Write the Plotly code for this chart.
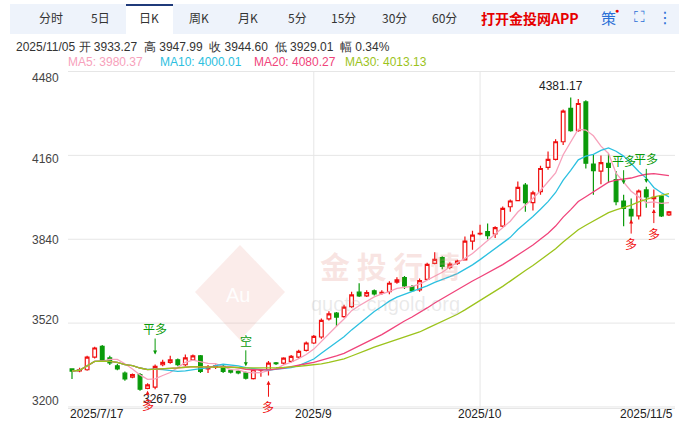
import plotly.graph_objects as go
import pandas as pd

dates = pd.bdate_range("2025-07-17", periods=80).strftime("%Y/%m/%d").tolist()
opens = [3345,3338,3342,3390,3431,3387,3357,3329,3314,3323,3271,3276,3361,3370,3380,3361,3380,3395,3345,3352,
         3355,3340,3336,3330,3308,3340,3342,3368,3367,3374,3390,3416,3444,3467,3536,3558,3545,3583,3638,3624,
         3643,3634,3640,3676,3694,3659,3647,3687,3748,3770,3733,3748,3761,3833,3860,3869,3860,3890,3964,3987,
         4047,3980,4022,4114,4145,4212,4339,4254,4364,4127,4100,4130,4068,3986,3954,3929,4028,3995,4005,3933.27]
closes = [3337,3343,3390,3425,3380,3368,3345,3307,3323,3268,3284,3355,3370,3380,3361,3387,3395,3336,3352,3357,
          3336,3333,3330,3310,3342,3342,3367,3365,3386,3393,3412,3444,3469,3530,3555,3543,3581,3628,3624,3636,
          3631,3637,3672,3685,3662,3644,3682,3744,3763,3736,3745,3757,3833,3856,3862,3854,3884,3958,3986,4038,
          3980,4017,4110,4145,4212,4329,4254,4358,4130,4102,4132,4114,3983,3958,3929,4024,4002,4000,3929,3944.60]
highs = [3348,3350,3395,3430,3436,3395,3365,3335,3328,3330,3290,3362,3380,3395,3385,3400,3400,3398,3360,3362,
         3360,3345,3340,3335,3345,3345,3375,3372,3390,3398,3418,3450,3475,3538,3565,3562,3590,3640,3672,3645,
         3648,3645,3680,3695,3700,3665,3690,3750,3790,3775,3752,3762,3850,3872,3895,3900,3890,3965,3992,4060,
         4055,4025,4120,4175,4222,4335,4381.17,4375,4370,4165,4160,4165,4100,4010,3995,4030,4040,4030,4010,3947.99]
lows = [3307,3332,3338,3385,3378,3360,3340,3300,3310,3262,3268,3267.79,3355,3365,3355,3355,3375,3330,3330,3345,
        3330,3328,3325,3305,3305,3315,3320,3360,3362,3370,3385,3412,3440,3460,3530,3507,3540,3578,3620,3620,
        3625,3628,3630,3670,3650,3640,3640,3685,3745,3725,3725,3742,3760,3800,3855,3840,3845,3885,3945,3985,
        3945,3950,4010,4105,4140,4200,4250,4250,4110,4010,4050,4055,3970,3890,3910,3915,3960,3960,3925,3929.01]

ytick_vals = [4480, 4160, 3840, 3520, 3200]
ytick_label_pos = [4455, 4147, 3838, 3533, 3224]
xtick_idx = [0, 32, 54, 79]
xtick_text = ["2025/7/17", "2025/9", "2025/10", "2025/11/5"]
tabs = ["分时", "5日", "日K", "周K", "月K", "5分", "15分", "30分", "60分"]
tab_x = [51, 100, 149, 199, 248, 297, 343, 394, 444]
ma_periods = [5, 10, 20, 30]
ma_colors = ["#f7a1bb", "#2cc0e0", "#f0447b", "#9cc31c"]
ma_last = ["3980.37", "4000.01", "4080.27", "4013.13"]

W, H = 679, 426
L, R, T, B = 68, 4, 71, 18
def px(x): return x / W
def py(y): return 1 - y / H

xs = list(range(80))
s = pd.Series(closes)
fig = go.Figure()
for p, c in zip(ma_periods, ma_colors):
    fig.add_trace(go.Scatter(x=xs, y=s.rolling(p, min_periods=1).mean(), mode="lines",
                             line=dict(color=c, width=1.3), hoverinfo="skip"))
fig.add_trace(go.Candlestick(x=xs, open=opens, high=highs, low=lows, close=closes,
    increasing=dict(line=dict(color="#f01010", width=1.2), fillcolor="white"),
    decreasing=dict(line=dict(color="#0a9a0a", width=1.2), fillcolor="#0a9a0a"),
    whiskerwidth=0))

shapes = []
x0p, x1p = px(L), px(W - R)
for v in ytick_vals:
    shapes.append(dict(type="line", xref="paper", x0=x0p, x1=x1p, y0=v, y1=v, yref="y", line=dict(color="#e6e6e6", width=1), layer="below"))
for i in xtick_idx[1:3]:
    shapes.append(dict(type="line", xref="x", x0=i, x1=i, yref="paper", y0=py(H - B), y1=py(T), line=dict(color="#e6e6e6", width=1), layer="below"))
shapes.append(dict(type="rect", xref="paper", yref="paper", x0=px(10), x1=1, y0=py(34), y1=py(4), fillcolor="#eef3fb", line=dict(width=0), layer="below"))
shapes.append(dict(type="rect", xref="paper", yref="paper", x0=px(126), x1=px(173), y0=py(34), y1=py(4), fillcolor="white", line=dict(width=0), layer="below"))
shapes.append(dict(type="line", xref="paper", yref="paper", x0=px(126), x1=px(173), y0=py(5), y1=py(5), line=dict(color="#1f3a7a", width=2)))
shapes.append(dict(type="path", xref="paper", yref="paper", layer="below",
                   path=f"M {px(240)},{py(245)} L {px(285)},{py(292)} L {px(240)},{py(340)} L {px(195)},{py(292)} Z",
                   fillcolor="rgba(235,170,160,0.22)", line=dict(width=0)))

ann = []
F = "Liberation Sans, Arial"
CJK = "Noto Sans CJK SC"
def A(**k):
    k.setdefault("showarrow", False)
    k.setdefault("xanchor", "center")
    k.setdefault("yanchor", "middle")
    ann.append(k)
for v, t in zip(ytick_label_pos, ytick_vals):
    A(x=px(61), xref="paper", y=v, yref="y", text=str(t), xanchor="right", font=dict(size=12, color="#444", family=F))
for i, t in zip(xtick_idx, xtick_text):
    xa = "left" if i == 0 else ("right" if i == 79 else "center")
    xx = -0.53 if i == 0 else (79.8 if i == 79 else i)
    A(x=xx, y=py(414), yref="paper", text=t, xanchor=xa, font=dict(size=12, color="#222", family=F))
for t, x in zip(tabs, tab_x):
    A(x=px(x), y=py(18), xref="paper", yref="paper", text=t, font=dict(size=12, color="#333", family=CJK))
A(x=px(530), y=py(18), xref="paper", yref="paper", text="<b>打开金投网APP</b>", font=dict(size=14, color="#e60000", family=CJK))
A(x=px(608), y=py(18), xref="paper", yref="paper", text="策", font=dict(size=15, color="#2a6fd6", family=CJK))
A(x=px(617), y=py(10), xref="paper", yref="paper", text="●", font=dict(size=7, color="#e60000"))
A(x=px(639), y=py(17), xref="paper", yref="paper", text="⛶", font=dict(size=15, color="#2a6fd6", family="DejaVu Sans"))
A(x=px(665), y=py(17), xref="paper", yref="paper", text="⋮", font=dict(size=16, color="#2a6fd6", family="DejaVu Sans"))
A(x=px(14), y=py(47), xref="paper", yref="paper", xanchor="left",
  text=f"{dates[-1]} 开 {opens[-1]:.2f}  高 {highs[-1]:.2f}  收 {closes[-1]:.2f}  低 {lows[-1]:.2f}  幅 0.34%",
  font=dict(size=12, color="#333", family=F))
xpos = [66, 158, 252, 343]
for p, c, v, x in zip(ma_periods, ma_colors, ma_last, xpos):
    A(x=px(x), y=py(62), xref="paper", yref="paper", xanchor="left", text=f"MA{p}: {v}", font=dict(size=12, color=c, family=F))
A(x=66, y=4381.17, text="4381.17", yanchor="bottom", yshift=2, xshift=-10, font=dict(size=12, color="#222", family=F))
A(x=12, y=3267.79, text="3267.79", yanchor="top", yshift=-1, xshift=2, font=dict(size=12, color="#222", family=F))
sig = [(11, 3400, "平多", "#0a9a0a", True, 26), (10, 3262, "多", "#f01010", False, 14),
       (23, 3355, "空", "#0a9a0a", True, 26), (26, 3300, "多", "#f01010", False, 26),
       (73, 4050, "平多", "#0a9a0a", True, 24), (76, 4055, "平多", "#0a9a0a", True, 24),
       (74, 3915, "多", "#f01010", False, 24), (77, 3955, "多", "#f01010", False, 24)]
for i, yv, t, c, down, d in sig:
    ann.append(dict(x=i, y=yv, text=t, showarrow=True, ax=0, ay=(-d if down else d), arrowhead=2, arrowsize=0.8,
                    arrowwidth=1, arrowcolor=c, font=dict(size=12, color=c, family=CJK)))
A(x=px(390), y=py(265), xref="paper", yref="paper", text="<b>金 投 行 情</b>", font=dict(size=30, color="rgba(230,150,140,0.25)", family=CJK))
A(x=px(385), y=py(304), xref="paper", yref="paper", text="quote.cngold.org", font=dict(size=20, color="rgba(180,180,180,0.28)", family=F))
A(x=px(238), y=py(295), xref="paper", yref="paper", text="Au", font=dict(size=20, color="rgba(255,255,255,0.95)", family=F))

fig.update_layout(width=W, height=H, margin=dict(l=0, r=0, t=0, b=0), paper_bgcolor="white", plot_bgcolor="white",
                  showlegend=False, shapes=shapes, annotations=ann,
                  xaxis=dict(domain=[px(L), px(W - R)], range=[-0.53, 79.8], showgrid=False, showticklabels=False,
                             rangeslider=dict(visible=False), zeroline=False, showline=True, linecolor="#e6e6e6"),
                  yaxis=dict(domain=[py(H - B), py(T)], range=[3196, 4482], showgrid=False, showticklabels=False, zeroline=False))
fig.write_html("out.html", post_script="document.body.style.margin='0';", config={"displayModeBar": False})
